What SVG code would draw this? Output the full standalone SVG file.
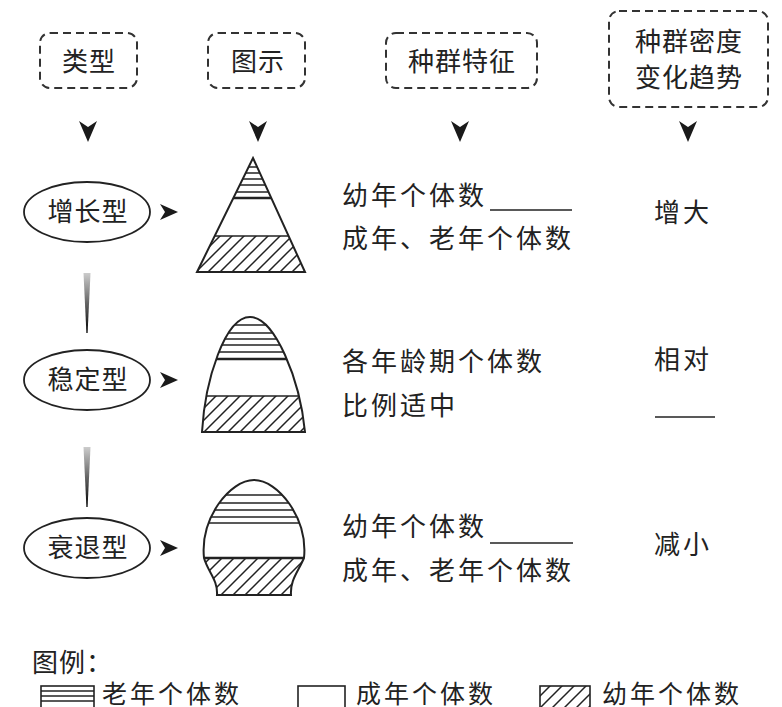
<svg xmlns="http://www.w3.org/2000/svg" width="782" height="707" viewBox="0 0 782 707">
<style>
.t{font-family:"Noto Sans CJK SC","Noto Sans",sans-serif;font-size:26px;fill:#222;letter-spacing:3px}
.lg{font-family:"Noto Sans CJK SC","Noto Sans",sans-serif;font-size:25px;fill:#222;letter-spacing:3px}
.h{font-family:"Noto Sans CJK SC","Noto Sans",sans-serif;font-size:26px;fill:#222;letter-spacing:1px}
.box{fill:none;stroke:#333;stroke-width:2;stroke-dasharray:8 5}
.el{fill:#fff;stroke:#222;stroke-width:1.8}
.ol{fill:none;stroke:#222;stroke-width:2}
.ln{stroke:#222;stroke-width:1.6}
.thk{stroke:#222;stroke-width:2.6}
.ar{fill:#1a1a1a}
.ul{stroke:#222;stroke-width:1.5}
</style>
<defs>
<pattern id="hatch" width="12" height="12" patternUnits="userSpaceOnUse">
<path d="M0,12 L12,0 M-3,3 L3,-3 M9,15 L15,9" stroke="#222" stroke-width="1.5"/>
</pattern>
<linearGradient id="fade" x1="0" y1="0" x2="0" y2="1">
<stop offset="0" stop-color="#ccc"/>
<stop offset="1" stop-color="#000"/>
</linearGradient>
<clipPath id="clipT"><path d="M253,158 L305,272 L197,272 Z"/></clipPath>
<clipPath id="clipB"><path d="M202,432 C205,380 225,317 250,317 C275,317 300,380 305,432 Z"/></clipPath>
<clipPath id="clipD"><path d="M204,558 C200,518 230,480 254,480 C278,480 308,518 304,558 C298,572 290,580 291,595 L217,595 C218,580 208,572 204,558 Z"/></clipPath>
</defs>

<g id="header-type">
<rect class="box" x="40" y="33" width="97" height="55" rx="10"/>
<text class="h" x="89" y="71" text-anchor="middle">类型</text>
</g>
<g id="header-figure">
<rect class="box" x="208" y="33" width="97" height="55" rx="10"/>
<text class="h" x="258" y="71" text-anchor="middle">图示</text>
</g>
<g id="header-feature">
<rect class="box" x="386" y="33" width="151" height="55" rx="10"/>
<text class="h" x="462" y="71" text-anchor="middle">种群特征</text>
</g>
<g id="header-trend">
<rect class="box" x="609" y="11" width="159" height="96" rx="10"/>
<text class="h" x="689" y="51" text-anchor="middle">种群密度</text>
<text class="h" x="689" y="87" text-anchor="middle">变化趋势</text>
</g>

<g id="connectors">
<path class="ar" d="M79,121 L88,127 L97,121 L88,142 Z"/>
<path class="ar" d="M249,121 L258,127 L267,121 L258,142 Z"/>
<path class="ar" d="M451,121 L460,127 L469,121 L460,142 Z"/>
<path class="ar" d="M679,121 L688,127 L697,121 L688,142 Z"/>
<path class="ar" d="M160,204 L178,212 L160,220 L165,212 Z"/>
<path class="ar" d="M160,372 L178,380 L160,388 L165,380 Z"/>
<path class="ar" d="M160,540 L178,548 L160,556 L165,548 Z"/>
<path fill="url(#fade)" d="M83.5,273 L90.5,273 L87.6,333 L86.4,333 Z"/>
<path fill="url(#fade)" d="M83.5,447 L90.5,447 L87.6,507 L86.4,507 Z"/>
</g>

<g id="node-growth">
<ellipse class="el" cx="87" cy="212" rx="63" ry="30"/>
<text class="h" x="88" y="221" text-anchor="middle">增长型</text>
</g>
<g id="node-stable">
<ellipse class="el" cx="87" cy="380" rx="63" ry="30"/>
<text class="h" x="88" y="389" text-anchor="middle">稳定型</text>
</g>
<g id="node-decline">
<ellipse class="el" cx="87" cy="548" rx="63" ry="30"/>
<text class="h" x="88" y="557" text-anchor="middle">衰退型</text>
</g>

<g id="figure-growth">
<g clip-path="url(#clipT)">
<rect x="190" y="236" width="120" height="40" fill="url(#hatch)"/>
<line class="ln" x1="190" y1="167" x2="310" y2="167"/>
<line class="ln" x1="190" y1="173" x2="310" y2="173"/>
<line class="ln" x1="190" y1="179" x2="310" y2="179"/>
<line class="ln" x1="190" y1="185" x2="310" y2="185"/>
<line class="ln" x1="190" y1="192" x2="310" y2="192"/>
<line class="thk" x1="190" y1="198" x2="310" y2="198"/>
<line class="ln" x1="190" y1="236" x2="310" y2="236"/>
</g>
<path class="ol" d="M253,158 L305,272 L197,272 Z"/>
</g>

<g id="figure-stable">
<g clip-path="url(#clipB)">
<rect x="195" y="396" width="120" height="40" fill="url(#hatch)"/>
<line class="ln" x1="195" y1="325" x2="315" y2="325"/>
<line class="ln" x1="195" y1="333" x2="315" y2="333"/>
<line class="ln" x1="195" y1="339" x2="315" y2="339"/>
<line class="ln" x1="195" y1="345" x2="315" y2="345"/>
<line class="ln" x1="195" y1="352" x2="315" y2="352"/>
<line class="thk" x1="195" y1="359" x2="315" y2="359"/>
<line class="ln" x1="195" y1="396" x2="315" y2="396"/>
</g>
<path class="ol" d="M202,432 C205,380 225,317 250,317 C275,317 300,380 305,432 Z"/>
</g>

<g id="figure-decline">
<g clip-path="url(#clipD)">
<rect x="195" y="558" width="120" height="40" fill="url(#hatch)"/>
<line class="ln" x1="195" y1="495" x2="315" y2="495"/>
<line class="ln" x1="195" y1="503" x2="315" y2="503"/>
<line class="ln" x1="195" y1="510" x2="315" y2="510"/>
<line class="ln" x1="195" y1="517" x2="315" y2="517"/>
<line class="ln" x1="195" y1="523" x2="315" y2="523"/>
<line class="thk" x1="195" y1="558" x2="315" y2="558"/>
</g>
<path class="ol" d="M204,558 C200,518 230,480 254,480 C278,480 308,518 304,558 C298,572 290,580 291,595 L217,595 C218,580 208,572 204,558 Z"/>
</g>

<g id="text-growth">
<text class="t" x="342" y="205">幼年个体数</text>
<line class="ul" x1="490" y1="210" x2="572" y2="210"/>
<text class="t" x="342" y="248">成年、老年个体数</text>
<text class="t" x="654" y="222">增大</text>
</g>
<g id="text-stable">
<text class="t" x="342" y="371">各年龄期个体数</text>
<text class="t" x="342" y="415">比例适中</text>
<text class="t" x="654" y="369">相对</text>
<line class="ul" x1="655" y1="417" x2="715" y2="417"/>
</g>
<g id="text-decline">
<text class="t" x="342" y="536">幼年个体数</text>
<line class="ul" x1="490" y1="543" x2="573" y2="543"/>
<text class="t" x="342" y="580">成年、老年个体数</text>
<text class="t" x="654" y="554">减小</text>
</g>

<g id="legend">
<text class="h" x="32" y="672">图例：</text>
<rect x="41" y="686" width="53" height="24" fill="#fff" stroke="#222" stroke-width="1.6"/>
<line class="ln" x1="41" y1="691" x2="94" y2="691"/>
<line class="ln" x1="41" y1="696" x2="94" y2="696"/>
<line class="ln" x1="41" y1="701" x2="94" y2="701"/>
<text class="lg" x="102" y="703">老年个体数</text>
<rect x="298" y="686" width="47" height="24" fill="#fff" stroke="#222" stroke-width="1.6"/>
<text class="lg" x="356" y="703">成年个体数</text>
<rect x="540" y="686" width="50" height="24" fill="url(#hatch)" stroke="#222" stroke-width="1.6"/>
<text class="lg" x="602" y="703">幼年个体数</text>
</g>
</svg>
